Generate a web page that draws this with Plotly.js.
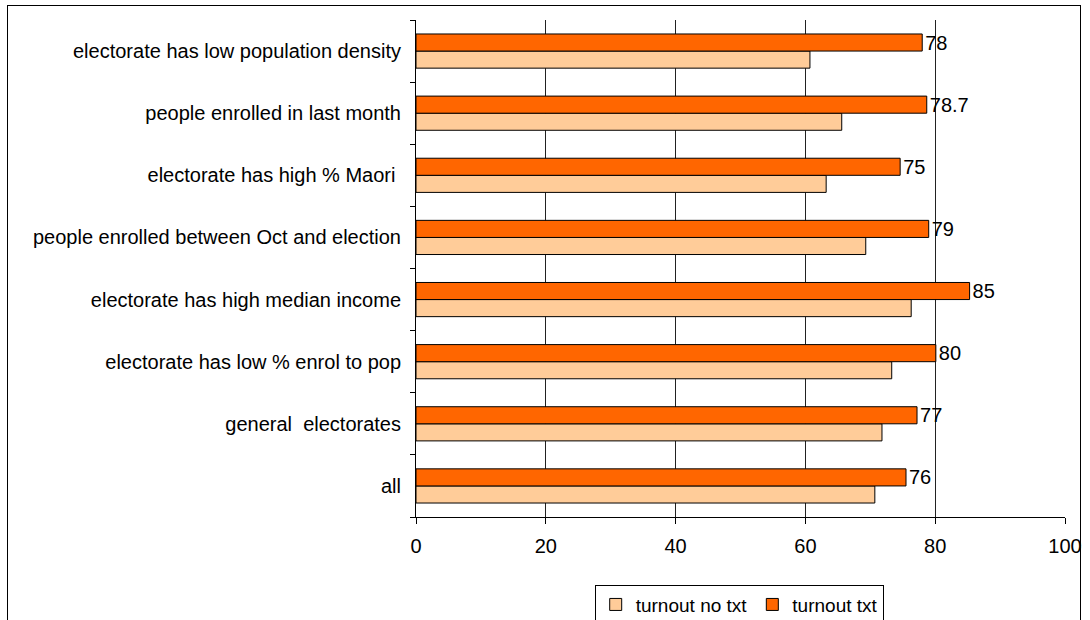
<!DOCTYPE html>
<html>
<head>
<meta charset="utf-8">
<script src="https://cdn.plot.ly/plotly-3.0.1.min.js"></script>
<style>
  html, body { margin: 0; padding: 0; background: #fff; }
  #wrap { position: relative; width: 1090px; height: 620px; overflow: hidden; }
  #frame { position: absolute; left: 7px; top: 5px; width: 1074px; height: 640px; border: 1px solid #000; box-sizing: border-box; pointer-events: none; }
  #chart { position: absolute; left: 0; top: 0; width: 1090px; height: 620px; }
</style>
</head>
<body>
<div id="wrap">
  <div id="chart"></div>
  <div id="frame"></div>
</div>
<script>
// Categories listed bottom to top
var categories = [
  "all",
  "general  electorates",
  "electorate has low % enrol to pop",
  "electorate has high median income",
  "people enrolled between Oct and election",
  "electorate has high % Maori ",
  "people enrolled in last month",
  "electorate has low population density"
];
var turnoutNoTxt = [70.7, 71.8, 73.3, 76.3, 69.3, 63.2, 65.6, 60.7];
var turnoutTxt   = [75.5, 77.2, 80.1, 85.3, 79.0, 74.6, 78.7, 78.0];
var turnoutTxtLabels = ["76", "77", "80", "85", "79", "75", "78.7", "78"];
var xTicks = [0, 20, 40, 60, 80, 100];

var font = "Liberation Sans, Arial, sans-serif";
var fsz = 20;

var traces = [
  {
    type: "bar", orientation: "h",
    name: "turnout no txt",
    y: categories, x: turnoutNoTxt,
    marker: { color: "#FFCC99", line: { color: "#000", width: 1 } },
    hoverinfo: "x+y"
  },
  {
    type: "bar", orientation: "h",
    name: "turnout txt",
    y: categories, x: turnoutTxt,
    text: turnoutTxtLabels,
    textposition: "outside",
    constraintext: "none",
    textfont: { family: font, size: fsz, color: "#000" },
    cliponaxis: false,
    marker: { color: "#FF6600", line: { color: "#000", width: 1 } },
    hoverinfo: "x+y"
  }
];

var layout = {
  width: 1090, height: 620,
  margin: { l: 416, r: 25, t: 20, b: 103, autoexpand: false },
  paper_bgcolor: "#fff", plot_bgcolor: "#fff",
  font: { family: font, size: fsz, color: "#000" },
  barmode: "group",
  bargap: 0.45, bargroupgap: 0,
  showlegend: true,
  legend: {
    orientation: "h",
    x: 0.498, xanchor: "center",
    y: -0.136, yanchor: "top",
    bordercolor: "#000", borderwidth: 1,
    font: { family: font, size: 19, color: "#000" },
    traceorder: "normal",
    itemwidth: 30,
    tracegroupgap: 0
  },
  xaxis: {
    range: [0, 100],
    tickvals: xTicks,
    ticktext: xTicks.map(String),
    showgrid: true, gridcolor: "#222", gridwidth: 1,
    zeroline: false,
    showline: true, linecolor: "#000", linewidth: 1,
    ticks: "outside", ticklen: 6, tickcolor: "#000",
    ticklabelstandoff: 5,
    tickfont: { family: font, size: fsz, color: "#000" },
    fixedrange: true
  },
  yaxis: {
    type: "category",
    categoryorder: "array", categoryarray: categories,
    showgrid: false, zeroline: false,
    showline: true, linecolor: "#000", linewidth: 1,
    ticks: "outside", ticklen: 5, tickcolor: "#000",
    tickson: "boundaries",
    ticklabelstandoff: 10,
    tickfont: { family: font, size: fsz, color: "#000" },
    fixedrange: true
  }
};

Plotly.newPlot("chart", traces, layout, { displayModeBar: false, staticPlot: true });
</script>
</body>
</html>
